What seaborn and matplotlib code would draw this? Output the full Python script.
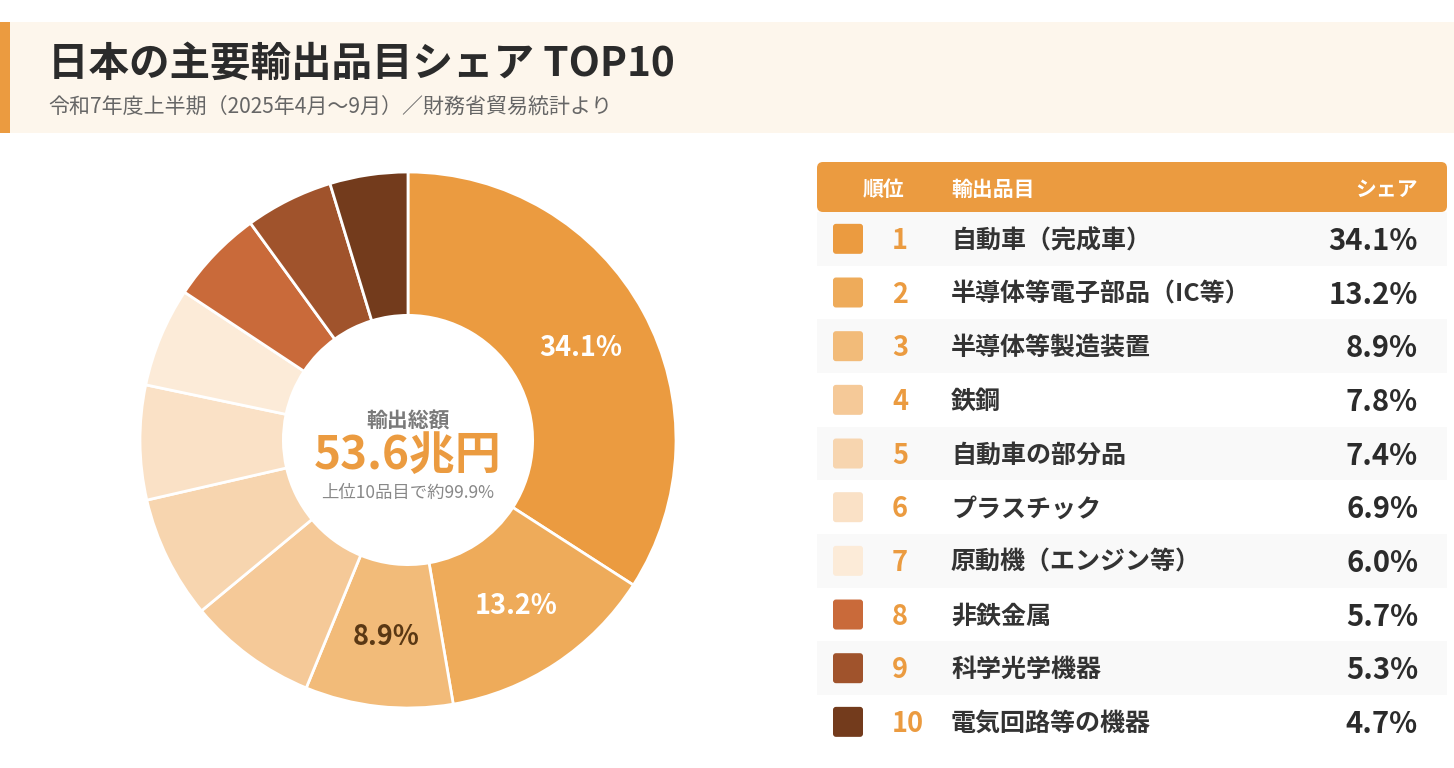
import matplotlib
matplotlib.use("Agg")
import matplotlib.pyplot as plt
from matplotlib.patches import FancyBboxPatch, Rectangle
import numpy as np
import seaborn as sns

# ---- data ----
items = ["自動車（完成車）", "半導体等電子部品（IC等）", "半導体等製造装置", "鉄鋼",
         "自動車の部分品", "プラスチック", "原動機（エンジン等）", "非鉄金属",
         "科学光学機器", "電気回路等の機器"]
shares = [34.1, 13.2, 8.9, 7.8, 7.4, 6.9, 6.0, 5.7, 5.3, 4.7]
ranks = list(range(1, 11))
colors = ["#EB9B40", "#EEAB5A", "#F2BB79", "#F5C998", "#F7D5AF",
          "#FAE1C6", "#FCEBD8", "#C96A3A", "#A0532C", "#733B1C"]
title = "日本の主要輸出品目シェア TOP10"
subtitle = "令和7年度上半期（2025年4月〜9月）／財務省貿易統計より"
center_label = "輸出総額"
center_value = "53.6兆円"
center_note = "上位10品目で約99.9%"
header_labels = ["順位", "輸出品目", "シェア"]
labeled_slices = 3
label_colors = ["white", "white", "#5A3814"]

sns.set_theme(style="white")
plt.rcParams["font.family"] = ["Noto Sans CJK JP", "DejaVu Sans"]

W, H = 1454, 768
fig = plt.figure(figsize=(W / 100, H / 100), dpi=100)
fig.patch.set_facecolor("white")

# overlay axes in pixel coordinates
ov = fig.add_axes([0, 0, 1, 1])
ov.set_xlim(0, W)
ov.set_ylim(H, 0)
ov.axis("off")

# title band
ov.add_patch(Rectangle((0, 22), W, 111, facecolor="#FDF6EC", edgecolor="none"))
ov.add_patch(Rectangle((0, 22), 10, 111, facecolor="#EB9B40", edgecolor="none"))
ov.text(48, 64, title, fontsize=29.2, fontweight="bold", color="#2B2B2B",
        va="center", ha="left")
ov.text(48, 108, subtitle, fontsize=15.1, color="#666666", va="center", ha="left")

# donut
cx, cy, R = 408, 440, 268
pax = fig.add_axes([(cx - R) / W, (H - cy - R) / H, 2 * R / W, 2 * R / H])
wedges, _ = pax.pie(shares, colors=colors, startangle=90, counterclock=False,
                    radius=1.0,
                    wedgeprops=dict(width=0.535, edgecolor="white", linewidth=2))
pax.set_xlim(-1, 1)
pax.set_ylim(-1, 1)
pax.set_aspect("equal")
pax.axis("off")

total = sum(shares)
start = 90.0
for i, s in enumerate(shares):
    span = 360.0 * s / total
    mid = np.deg2rad(start - span / 2)
    start -= span
    if i < labeled_slices:
        r = 0.733
        pax.text(r * np.cos(mid), r * np.sin(mid) - 0.008, f"{s:.1f}%", ha="center",
                 va="center", fontsize=19.5, fontweight="bold", color=label_colors[i])

pax.text(0, 0.072, center_label, ha="center", va="center", fontsize=15,
         fontweight="bold", color="#7A7A7A")
pax.text(0, -0.058, center_value, ha="center", va="center", fontsize=33,
         fontweight="bold", color="#EB9B40")
pax.text(0, -0.197, center_note, ha="center", va="center", fontsize=12.5,
         color="#888888")

# table
tx0, tx1 = 817, 1447
hy0, hy1 = 162, 212
row_h = 53.67
ov.add_patch(FancyBboxPatch((tx0, hy0), tx1 - tx0, hy1 - hy0,
                            boxstyle="round,pad=0,rounding_size=6",
                            facecolor="#EB9B40", edgecolor="none"))
hyc = (hy0 + hy1) / 2 + 2
ov.text(863, hyc, header_labels[0], fontsize=15, fontweight="bold", color="white",
        ha="left", va="center")
ov.text(951, hyc, header_labels[1], fontsize=15, fontweight="bold", color="white",
        ha="left", va="center")
ov.text(1418, hyc, header_labels[2], fontsize=15, fontweight="bold", color="white",
        ha="right", va="center")

for i, (rk, it, s, c) in enumerate(zip(ranks, items, shares, colors)):
    y0 = hy1 + i * row_h
    yc = y0 + row_h / 2
    if i % 2 == 0:
        ov.add_patch(Rectangle((tx0, y0), tx1 - tx0, row_h, facecolor="#F9F9F9",
                               edgecolor="none"))
    ov.add_patch(FancyBboxPatch((833, yc - 15), 30, 30,
                                boxstyle="round,pad=0,rounding_size=3",
                                facecolor=c, edgecolor="none"))
    ov.text(892, yc + 2, str(rk), fontsize=19.5, fontweight="bold", color="#EB9B40",
            ha="left", va="center")
    ov.text(951, yc + 2, it, fontsize=18, fontweight="bold", color="#333333",
            ha="left", va="center")
    ov.text(1418, yc + 2, f"{s:.1f}%", fontsize=21, fontweight="bold", color="#2B2B2B",
            ha="right", va="center")

fig.savefig("out.png", dpi=100, facecolor="white")
